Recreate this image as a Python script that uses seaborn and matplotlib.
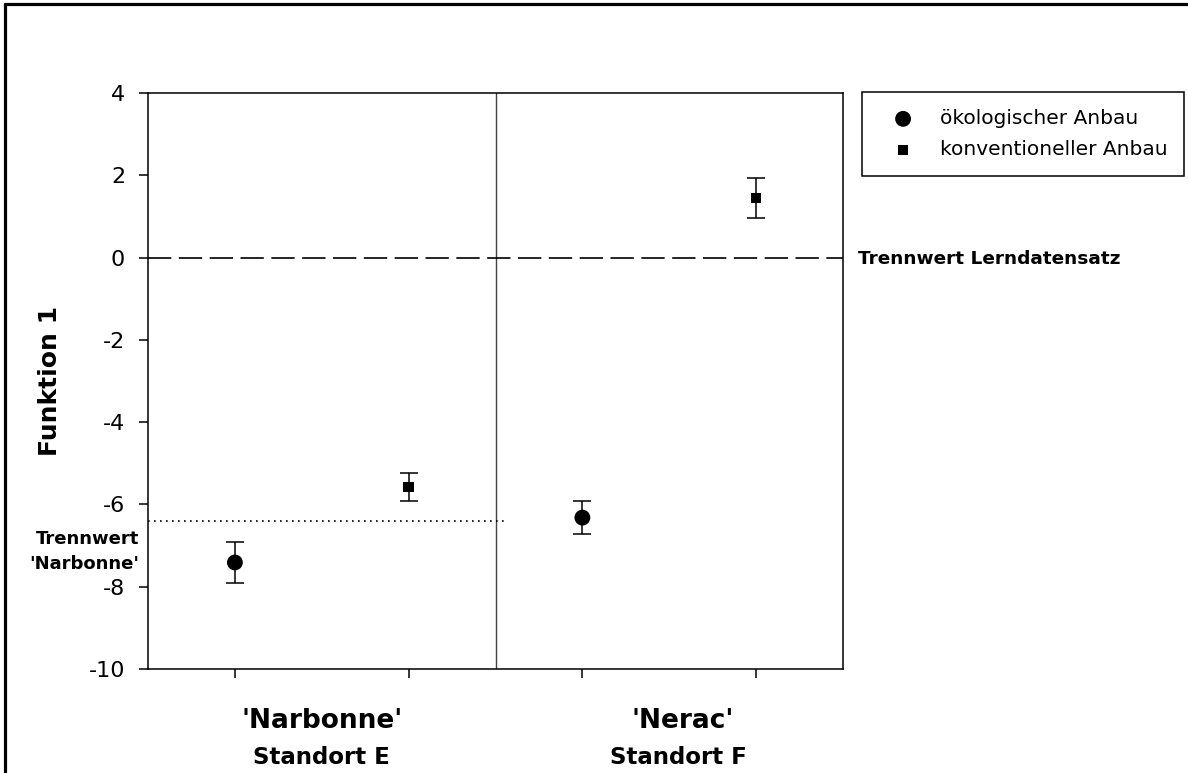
import pandas as pd
import seaborn as sns
import matplotlib.pyplot as plt
from matplotlib.lines import Line2D

# values
standort = ["Narbonne", "Narbonne", "Nerac", "Nerac"]
anbau = ["ökologischer Anbau", "konventioneller Anbau", "ökologischer Anbau", "konventioneller Anbau"]
position = [1, 2, 3, 4]
funktion_1 = [-7.41, -5.57, -6.32, 1.45]
fehler = [0.50, 0.34, 0.41, 0.49]

trennwert_lern = 0.0
trennwert_narbonne = -6.40
y_ticks = [-10, -8, -6, -4, -2, 0, 2, 4]

data = pd.DataFrame({"Standort": standort, "Anbau": anbau, "pos": position,
                     "Funktion 1": funktion_1, "se": fehler})

sns.set_style("ticks")
plt.rcParams["axes.unicode_minus"] = False
plt.rcParams["font.family"] = ["DejaVu Sans"]
plt.rcParams.update({"text.color": "black", "axes.labelcolor": "black",
                     "xtick.color": "black", "ytick.color": "black",
                     "axes.edgecolor": "black"})

fig = plt.figure(figsize=(11.88, 7.73), dpi=100)
ax = fig.add_axes([0.1246, 0.1345, 0.585, 0.7452])

marker_cfg = {"ökologischer Anbau": ("o", 130), "konventioneller Anbau": ("s", 55)}
for name, (marker, size) in marker_cfg.items():
    sub = data[data["Anbau"] == name]
    ax.errorbar(sub["pos"], sub["Funktion 1"], yerr=sub["se"], fmt="none",
                ecolor="black", elinewidth=1.1, capsize=6.5, capthick=1.1, zorder=3)
    sns.scatterplot(data=sub, x="pos", y="Funktion 1", marker=marker, s=size,
                    color="black", edgecolor="none", label=name, ax=ax, zorder=4)

# reference lines
ax.axhline(trennwert_lern, color="black", lw=1.2, linestyle=(0, (14, 4.5)), zorder=2)
ax.plot([0.5, 2.55], [trennwert_narbonne] * 2, color="black", lw=1.2,
        linestyle=(0, (1, 2.6)), zorder=2)
ax.axvline(2.5, color="#444444", lw=1.0, zorder=1)

ax.set_xlim(0.5, 4.5)
ax.set_ylim(-10, 4)
ax.set_yticks(y_ticks)
ax.set_xticks(position)
ax.set_xticklabels([])
ax.set_xlabel("")
ax.tick_params(axis="both", direction="out", length=6.5, width=1.1, color="black")
ax.tick_params(axis="y", labelsize=16, pad=10, labelcolor="black")
for sp in ax.spines.values():
    sp.set_visible(True)
    sp.set_linewidth(1.1)
    sp.set_color("black")

ax.set_ylabel("Funktion 1", fontsize=18, fontweight="bold", color="black")
ax.yaxis.set_label_coords(-0.124, 0.5)

# group labels below the axis
tr = ax.get_xaxis_transform()
ax.text(1.5, -0.1024, "'Narbonne'", transform=tr, ha="center", va="baseline",
        fontsize=19, fontweight="bold")
ax.text(1.5, -0.165, "Standort E", transform=tr, ha="center", va="baseline",
        fontsize=16.5, fontweight="bold")
ax.text(3.58, -0.1024, "'Nerac'", transform=tr, ha="center", va="baseline",
        fontsize=19, fontweight="bold")
ax.text(3.55, -0.165, "Standort F", transform=tr, ha="center", va="baseline",
        fontsize=16.5, fontweight="bold")

ax.text(4.586, -0.15, "Trennwert Lerndatensatz", ha="left", va="baseline",
        fontsize=13.3, fontweight="bold", clip_on=False)
ax.text(0.448, -6.96, "Trennwert", ha="right", va="baseline",
        fontsize=13, fontweight="bold", clip_on=False)
ax.text(0.448, -7.57, "'Narbonne'", ha="right", va="baseline",
        fontsize=13, fontweight="bold", clip_on=False)

leg = ax.legend(loc="upper left", bbox_to_anchor=(862 / 1188, 1 - 92 / 773),
                bbox_transform=fig.transFigure, borderaxespad=0, fontsize=14.5,
                frameon=True, fancybox=False, framealpha=1, edgecolor="black",
                borderpad=0.85, handlelength=2.38, handletextpad=0.62,
                labelspacing=0.6, scatterpoints=1)
leg.get_frame().set_linewidth(1.1)

# figure border (top and left edge)
fig.add_artist(Line2D([0.0038, 1.0], [0.9942, 0.9942], color="black", lw=2.3,
                      transform=fig.transFigure))
fig.add_artist(Line2D([0.0038, 0.0038], [0.0, 0.9942], color="black", lw=2.3,
                      transform=fig.transFigure))

fig.savefig("out.png", dpi=100)
